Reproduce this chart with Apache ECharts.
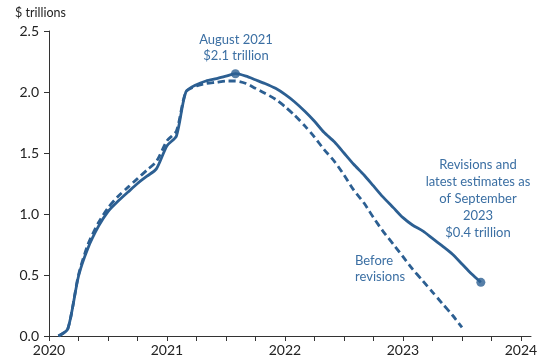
<!DOCTYPE html>
<html><head><meta charset="utf-8">
<script src="https://cdn.jsdelivr.net/npm/echarts@6/dist/echarts.min.js"></script>
<style>html,body{margin:0;padding:0;background:#fff}#c{width:550px;height:363px}</style>
</head><body><div id="c"></div>
<script>
var revisedX = [2020.08,2020.16,2020.25,2020.33,2020.42,2020.50,2020.58,2020.67,2020.75,2020.83,2020.91,2021.0,2021.08,2021.16,2021.25,2021.33,2021.42,2021.5,2021.58,2021.67,2021.75,2021.83,2021.92,2022.0,2022.08,2022.17,2022.25,2022.33,2022.42,2022.5,2022.58,2022.67,2022.75,2022.83,2022.92,2023.0,2023.08,2023.17,2023.25,2023.33,2023.42,2023.5,2023.58,2023.66];
var revisedY = [0,0.06,0.49,0.72,0.90,1.02,1.10,1.18,1.25,1.31,1.37,1.56,1.64,2.00,2.06,2.09,2.11,2.13,2.15,2.13,2.10,2.07,2.03,1.98,1.92,1.84,1.76,1.67,1.59,1.50,1.41,1.32,1.23,1.14,1.05,0.97,0.91,0.86,0.80,0.74,0.67,0.59,0.51,0.44];
var beforeX = [2020.08,2020.16,2020.25,2020.33,2020.42,2020.50,2020.58,2020.67,2020.75,2020.83,2020.91,2021.0,2021.08,2021.16,2021.25,2021.33,2021.42,2021.5,2021.58,2021.67,2021.75,2021.83,2021.92,2022.0,2022.08,2022.17,2022.25,2022.33,2022.42,2022.5,2022.58,2022.67,2022.75,2022.83,2022.92,2023.0,2023.08,2023.17,2023.25,2023.33,2023.42,2023.5];
var beforeY = [0,0.06,0.50,0.75,0.93,1.05,1.14,1.22,1.29,1.36,1.43,1.60,1.68,2.00,2.05,2.07,2.08,2.09,2.09,2.07,2.03,1.99,1.94,1.88,1.81,1.72,1.63,1.53,1.43,1.32,1.20,1.09,0.97,0.86,0.75,0.65,0.55,0.45,0.36,0.27,0.17,0.07];
var markedX = [2021.58, 2023.66];
var markedY = [2.15, 0.44];
var xTicks = [2020,2020.25,2020.5,2020.75,2021,2021.25,2021.5,2021.75,2022,2022.25,2022.5,2022.75,2023,2023.25,2023.5,2023.75,2024];
var xLabels = [2020,2021,2022,2023,2024];
var yLabels = ['0.0','0.5','1.0','1.5','2.0','2.5'];

function pairs(xs, ys){ return xs.map(function(x,i){return [x, ys[i]];}); }
var col = '#2c5f92';
var txt = '#3b6fa3';
var font = 'Lato, "Noto Sans", sans-serif';
var chart = echarts.init(document.getElementById('c'));
chart.setOption({
  animation:false,
  grid:{left:49,right:19,top:31,bottom:27},
  xAxis:{type:'value',min:2020,max:2024.085,
    axisLine:{show:true,lineStyle:{color:'#333',width:1}},
    axisTick:{show:true,customValues:xTicks,length:5,lineStyle:{color:'#333'}},
    axisLabel:{customValues:xLabels,color:'#222',fontSize:14,fontFamily:font,margin:7,formatter:function(v){return String(Math.round(v));}},
    splitLine:{show:false}},
  yAxis:{type:'value',min:0,max:2.5,interval:0.5,
    axisLine:{show:true,lineStyle:{color:'#333',width:1}},
    axisTick:{show:true,length:5,lineStyle:{color:'#333'}},
    axisLabel:{color:'#222',fontSize:14,fontFamily:font,margin:10,formatter:function(v){return yLabels[Math.round(v/0.5)];}},
    splitLine:{show:false}},
  graphic:[
    {type:'text',left:15,top:6,style:{text:'$ trillions',fill:'#222',fontSize:12.5,fontFamily:font}},
    {type:'text',x:236,y:32,style:{text:'August 2021\n$2.1 trillion',fill:txt,fontSize:13,fontFamily:font,align:'center',lineHeight:16}},
    {type:'text',x:478,y:156,style:{text:'Revisions and\nlatest estimates as\nof September\n2023\n$0.4 trillion',fill:txt,fontSize:13,fontFamily:font,align:'center',lineHeight:17}},
    {type:'text',x:355,y:253,style:{text:'Before\nrevisions',fill:txt,fontSize:13,fontFamily:font,align:'left',lineHeight:16}}
  ],
  series:[
    {type:'line',data:pairs(beforeX,beforeY),smooth:0.25,symbol:'none',lineStyle:{color:col,width:2.8,type:[7,4]}},
    {type:'line',data:pairs(revisedX,revisedY),smooth:0.25,symbol:'none',lineStyle:{color:col,width:2.8}},
    {type:'scatter',data:pairs(markedX,markedY),symbolSize:9,itemStyle:{color:col}}
  ]
});
</script></body></html>
